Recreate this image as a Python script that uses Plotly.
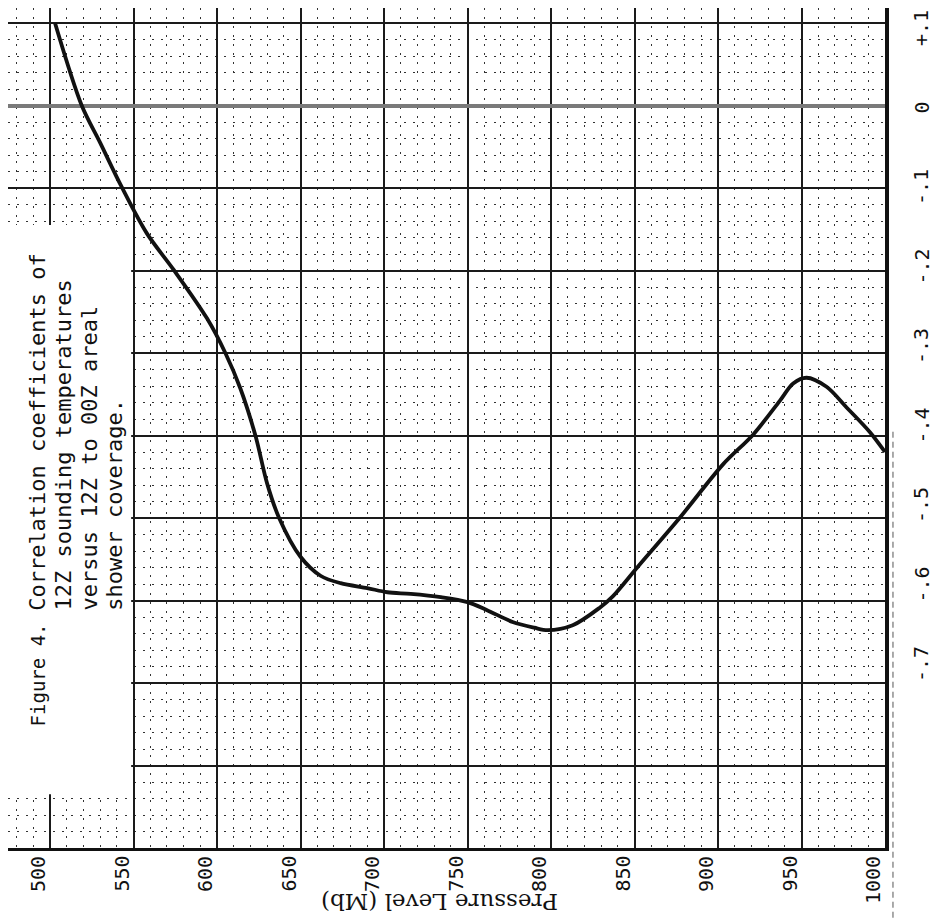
import plotly.graph_objects as go

# Curve (pressure in mb, correlation coefficient)
pressure = [503, 519, 530, 543, 558, 574, 594, 605, 614, 623, 630, 637, 650, 662,
            674, 690, 702, 716, 734, 750, 762, 777, 790, 798, 813, 829, 837, 852,
            877, 903, 921, 937, 945, 953, 965, 977, 991, 1000]
corr = [0.100, 0.000, -0.045, -0.099, -0.155, -0.199, -0.258, -0.300, -0.343, -0.400,
        -0.458, -0.499, -0.547, -0.570, -0.579, -0.585, -0.590, -0.592, -0.596, -0.602,
        -0.612, -0.626, -0.633, -0.636, -0.630, -0.609, -0.595, -0.559, -0.500, -0.435,
        -0.399, -0.358, -0.337, -0.330, -0.341, -0.366, -0.396, -0.420]

x_tick_vals = [500, 550, 600, 650, 700, 750, 800, 850, 900, 950, 1000]
x_tick_text = ["500", "550", "600", "650", "700", "750", "800", "850", "900", "950", "1000"]
y_tick_vals = [0.1, 0.0, -0.1, -0.2, -0.3, -0.4, -0.5, -0.6, -0.7]
y_tick_text = ["+.1", "0", "-.1", "-.2", "-.3", "-.4", "-.5", "-.6", "-.7"]

title_lines = ["Correlation coefficients of", "12Z sounding temperatures",
               "versus 12Z to 00Z areal", "shower coverage."]
fig_label = "Figure 4."
axis_title = "Pressure Level (Mb)"

fig = go.Figure()
fig.add_trace(go.Scatter(x=pressure, y=corr, mode="lines",
                         line=dict(color="#111111", width=3.8, shape="spline", smoothing=0.9),
                         hoverinfo="skip", showlegend=False))

# page body has an 8px margin, so the figure is 8px smaller than the window
fig.update_layout(
    width=933, height=910,
    margin=dict(l=0, r=56, t=0, b=70),
    paper_bgcolor="white", plot_bgcolor="white",
    showlegend=False,
)

fig.update_xaxes(
    range=[474.85, 1000], tick0=500, dtick=50,
    showgrid=True, gridcolor="#1a1a1a", gridwidth=1.6,
    showticklabels=False, ticks="", zeroline=False,
    showline=True, linecolor="#111", linewidth=2.5,
    minor=dict(tick0=500, dtick=10, showgrid=True, gridcolor="#333333",
               gridwidth=1, griddash="2px,7px", ticks=""),
)
fig.update_yaxes(
    range=[-0.9, 0.11818], tick0=0, dtick=0.1, side="right",
    showgrid=True, gridcolor="#1a1a1a", gridwidth=1.6,
    showticklabels=False, ticks="",
    zeroline=True, zerolinecolor="#7a7a7a", zerolinewidth=3.5,
    showline=True, linecolor="#111", linewidth=3.5,
    minor=dict(tick0=0, dtick=0.02, showgrid=True, gridcolor="#333333",
               gridwidth=1, griddash="2px,7px", ticks=""),
)

# blank area on the left where the caption sits
fig.add_shape(type="rect", xref="x", yref="y", x0=472, x1=548.6, y0=-0.835, y1=-0.145,
              fillcolor="white", line=dict(width=0), layer="between")

# faint dashed scan line right of the frame
fig.add_shape(type="line", xref="paper", yref="paper", x0=1.0091, x1=1.0091, y0=-0.083, y1=0.5,
              line=dict(color="#555", width=1, dash="6px,4px"))

mono = "DejaVu Sans Mono"

for v, t in zip(x_tick_vals, x_tick_text):
    fig.add_annotation(x=v, y=0, xref="x", yref="paper", text=t, showarrow=False,
                       textangle=-90, xanchor="center", yanchor="top", xshift=-12, yshift=-6,
                       font=dict(family=mono, size=20, color="#111"))

for i, (v, t) in enumerate(zip(y_tick_vals, y_tick_text)):
    fig.add_annotation(x=1, y=v, xref="paper", yref="y", text=t, showarrow=False,
                       textangle=-90, xanchor="center", yanchor="middle",
                       xshift=36, yshift=-5 + 3 * i,
                       font=dict(family=mono, size=20, color="#111"))

# caption (rotated)
caption_x = [492.8, 507.8, 523.4, 538.9]
for xv, line in zip(caption_x, title_lines):
    fig.add_annotation(x=xv, y=-0.615, xref="x", yref="y", text=line, showarrow=False,
                       textangle=-90, xanchor="center", yanchor="bottom",
                       font=dict(family=mono, size=22, color="#111"))
fig.add_annotation(x=caption_x[0], y=-0.7545, xref="x", yref="y", text=fig_label, showarrow=False,
                   textangle=-90, xanchor="center", yanchor="bottom",
                   font=dict(family=mono, size=19, color="#111"))

fig.add_annotation(x=0.4914, y=-0.0643, xref="paper", yref="paper", text=axis_title,
                   showarrow=False, textangle=180, xanchor="center", yanchor="middle",
                   font=dict(family="DejaVu Serif", size=23, color="#111"))

fig.write_html("out.html")
